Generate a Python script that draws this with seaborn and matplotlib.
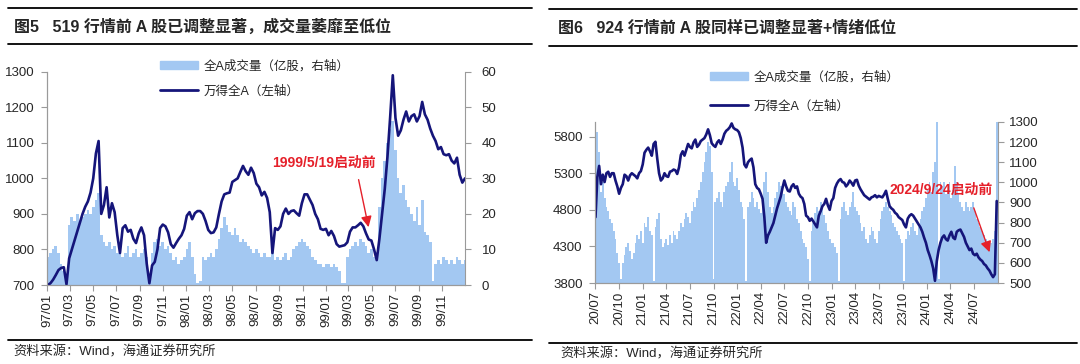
import pandas as pd
import seaborn as sns
import matplotlib.pyplot as plt
from matplotlib.lines import Line2D
from matplotlib.patches import Patch

# 图5：万得全A（左轴）与全A成交量（亿股，右轴），1997-1999 周度读数
wind_a_9799 = [700, 705, 715, 728, 742, 748, 750, 702, 775, 800,
               825, 850, 875, 900, 920, 935, 960, 1000, 1070, 1105,
               900, 925, 975, 890, 930, 905, 840, 790, 860, 868,
               850, 855, 830, 818, 845, 862, 840, 760, 705, 755,
               765, 800, 860, 870, 865, 848, 815, 805, 818, 830,
               840, 858, 895, 905, 885, 902, 908, 908, 900, 880,
               855, 846, 848, 862, 900, 935, 955, 958, 960, 990,
               995, 1000, 1018, 1035, 1020, 1010, 1030, 1015, 985, 975,
               952, 962, 945, 905, 790, 860, 855, 865, 900, 915,
               900, 908, 910, 902, 895, 930, 955, 955, 940, 925,
               900, 885, 858, 855, 858, 840, 852, 838, 815, 808,
               810, 812, 820, 850, 862, 862, 868, 875, 865, 845,
               828, 825, 800, 770, 830, 900, 970, 1060, 1170, 1290,
               1170, 1120, 1135, 1165, 1188, 1160, 1175, 1180, 1160, 1175,
               1215, 1180, 1165, 1140, 1120, 1105, 1082, 1088, 1068, 1065,
               1068, 1050, 1042, 1058, 1010, 988, 1000]
vol_9799 = [8, 9, 10, 11, 9, 6, 4, 1,
            17, 19, 18, 20, 18, 19, 20,
            21, 20, 22, 24, 26,
            14, 12, 11, 12, 10, 11,
            9, 10, 8, 9, 11, 8, 9, 10, 8, 9, 10, 8,
            3,
            9, 12, 13, 11, 12, 10, 11, 9,
            7, 8, 6, 7, 8,
            10, 12, 8,
            3, 0.5, 1,
            8, 7, 8, 9, 8, 10,
            13, 16, 19, 17, 15, 14, 16,
            14, 12, 13, 12,
            11, 10, 9, 10, 9, 8, 9, 8,
            8, 10, 7, 8, 7, 8, 9, 7, 8,
            10, 11, 12, 13, 12, 11, 10,
            8, 7, 6, 6, 5, 6, 6, 5, 6,
            5, 4, 0.5, 0.5,
            8, 10, 11, 12, 11, 13, 12, 11,
            9, 10, 8, 9,
            22, 30, 35, 40, 44, 46,
            38, 30, 26, 28, 24, 22,
            20, 18, 22, 17, 24, 15, 14, 12,
            1,
            6, 7, 6, 8, 7, 6, 7, 6, 8, 7, 6, 7]
start_9799 = "1997-01-03"

# 图6：万得全A（左轴）与全A成交量（亿股，右轴），2020-2024 周度读数
wind_a_2024 = [4700, 5250, 5400, 5150, 5280, 5180, 5300, 5320, 5250, 5300,
               5300, 5200, 5120, 5020, 5100, 5150, 5280, 5260, 5200, 5270,
               5300, 5280, 5260, 5230, 5300, 5330, 5420, 5580, 5620, 5650,
               5600, 5540, 5700, 5730, 5500, 5300, 5200, 5230, 5300, 5260,
               5250, 5320, 5330, 5350, 5340, 5290, 5380, 5550, 5600, 5540,
               5620, 5700, 5660, 5640, 5720, 5760, 5660, 5690, 5740, 5760,
               5780, 5830, 5900, 5820, 5710, 5680, 5660, 5720, 5750, 5700,
               5760, 5840, 5880, 5900, 5930, 5980, 5920, 5900, 5890, 5860,
               5780, 5650, 5420, 5380, 5450, 5480, 5500, 5380, 5150, 5100,
               5080, 5020, 4950, 4700, 4350, 4450, 4500, 4560, 4620, 4720,
               4820, 4900, 4980, 5100, 5200, 5120, 5060, 5050, 5120, 5150,
               5100, 5120, 5020, 4980, 4960, 4880, 4720, 4700, 4650, 4680,
               4640, 4600, 4560, 4720, 4780, 4850, 4880, 4950, 4860, 4800,
               4920, 4960, 5100, 5160, 5200, 5220, 5180, 5170, 5120, 5150,
               5200, 5170, 5130, 5200, 5210, 5130, 5080, 5040, 5000, 4980,
               4960, 4940, 4970, 4980, 5000, 4970, 4990, 4980, 4970, 5010,
               5060, 4950, 4850, 4820, 4800, 4760, 4740, 4700, 4680, 4660,
               4600, 4560, 4680, 4720, 4740, 4720, 4680, 4640, 4600, 4560,
               4500, 4420, 4350, 4250, 4180, 4100, 4000, 3830, 4100, 4250,
               4350, 4420, 4450, 4400, 4380, 4450, 4500, 4420, 4400, 4500,
               4520, 4530, 4480, 4430, 4350, 4300, 4250, 4270, 4200, 4180,
               4200, 4150, 4120, 4100, 4060, 4040, 4000, 3970, 3920, 3880,
               3920, 4920]
vol_2024 = [1300, 1250, 1150, 950, 1000, 920, 880, 860, 820, 800,
            760, 720, 650, 600, 520, 600, 640, 680, 700, 660,
            620, 650, 700, 740, 720, 760, 700, 800, 780, 830,
            760, 740, 510, 780, 820, 850, 720, 680, 700, 720,
            690, 740, 700, 760, 740, 720, 760, 800, 780, 820,
            850, 830, 800, 860, 900, 880, 920, 960, 1000, 1050,
            1100, 1150, 1200, 1180, 1050, 520, 900, 920, 950, 900,
            880, 950, 980, 1000, 1050, 1100, 1000, 980, 1020, 960,
            900, 880, 820, 510, 880, 900, 950, 920, 880, 900,
            870, 850, 900, 1000, 1050, 950, 880, 850, 880, 920,
            950, 1000, 980, 960, 940, 900, 880, 860, 840, 900,
            880, 820, 800, 760, 720, 700, 680, 620, 510, 760,
            800, 850, 880, 860, 900, 880, 840, 800, 760, 720,
            700, 700, 680, 650, 510, 820, 880, 900, 860, 840,
            880, 900, 950, 880, 860, 840, 800, 760, 780, 720,
            700, 740, 780, 760, 720, 700, 760, 820, 860, 880,
            900, 880, 860, 840, 800, 780, 760, 740, 720, 700,
            510, 720, 760, 740, 780, 800, 760, 740, 780, 820,
            860, 880, 920, 960, 1000, 950, 1050, 1100, 1300, 520,
            1000, 980, 1000, 940, 960, 1000, 920, 960, 1080, 1000,
            940, 900, 880, 860, 900, 880, 860, 880, 900, 860,
            820, 800, 780, 760, 740, 720, 700, 680, 700, 720,
            760, 1300]
start_2024 = "2020-07-03"

BAR = "#A3C8F2"
NAVY = "#15157A"
RED = "#E5202A"
GRAY = "#9A9A9A"

sns.set_style("white")
plt.rcParams["font.family"] = ["Liberation Sans", "Noto Sans CJK SC"]
plt.rcParams["axes.unicode_minus"] = False

W, H = 1080, 364
fig = plt.figure(figsize=(W / 100, H / 100), dpi=100)


def box(x0, y0, x1, y1):
    # pixel box -> figure fraction rect
    return [x0 / W, 1 - y1 / H, (x1 - x0) / W, (y1 - y0) / H]


def panel(rect, line_vals, vol_vals, start, xlim, xticks, lticks, rticks, rpad):
    ax = fig.add_axes(rect)
    axb = ax.twinx()
    d_line = pd.date_range(start, periods=len(line_vals), freq="7D")
    d_vol = pd.date_range(start, periods=len(vol_vals), freq="7D")
    axb.bar(d_vol, vol_vals, width=7, color=BAR, linewidth=0)
    sns.lineplot(x=d_line, y=line_vals, ax=ax, color=NAVY, lw=1.9)
    ax.set_zorder(axb.get_zorder() + 1)
    ax.patch.set_visible(False)

    ax.set_xlim(pd.Timestamp(xlim[0]), pd.Timestamp(xlim[1]))
    ax.set_ylim(lticks[0], lticks[-1] if lticks[-1] != 5800 else 6000)
    axb.set_ylim(rticks[0], rticks[-1])
    ax.set_yticks(lticks)
    axb.set_yticks(rticks)
    ax.set_xticks(xticks)
    ax.set_xticklabels([d.strftime("%y/%m") for d in xticks], rotation=90)
    ax.set_xlabel("")
    ax.set_ylabel("")

    for a in (ax, axb):
        for s in a.spines.values():
            s.set_color(GRAY)
            s.set_linewidth(0.8)
        a.spines["top"].set_visible(False)
    ax.spines["right"].set_visible(False)
    ax.tick_params(axis="y", direction="out", length=4, color=GRAY,
                   labelsize=9.5, pad=5, left=True)
    ax.tick_params(axis="x", direction="out", length=4, color=GRAY,
                   labelsize=9.5, pad=2, bottom=True)
    axb.tick_params(axis="y", direction="out", length=4, color=GRAY,
                    labelsize=9.5, pad=rpad, right=True)
    return ax


def frame(x0, x1, y_top, y_mid, y_bot, title, tx, ty, sx, sy):
    for y in (y_top, y_mid, y_bot):
        fig.add_artist(Line2D([x0 / W, x1 / W], [1 - y / H] * 2,
                              color="black", lw=1.3, transform=fig.transFigure))
    fig.text(tx / W, 1 - ty / H, title, fontsize=11.5, fontweight="bold",
             va="center", ha="left")
    fig.text(sx / W, 1 - sy / H, "资料来源：Wind，海通证券研究所",
             fontsize=9.5, va="center", ha="left")


def legend(x, y, gap):
    handles = [Patch(color=BAR), Line2D([], [], color=NAVY, lw=2)]
    labels = ["全A成交量（亿股，右轴）", "万得全A（左轴）"]
    fig.legend(handles, labels, loc="upper left", bbox_to_anchor=(x / W, 1 - y / H),
               frameon=False, fontsize=9, handlelength=3.0, handleheight=0.7,
               labelspacing=gap, borderpad=0, borderaxespad=0, handletextpad=0.5)


# ---- 图5 ----
ticks_9799 = pd.date_range("1997-01-01", "1999-11-01", freq="2MS")
ax1 = panel(box(47, 71.7, 465, 285), wind_a_9799, vol_9799, start_9799,
            ("1997-01-01", "1999-12-31"), ticks_9799,
            [700, 800, 900, 1000, 1100, 1200, 1300],
            [0, 10, 20, 30, 40, 50, 60], 8)
frame(8, 532, 8, 44, 340, "图5   519 行情前 A 股已调整显著，成交量萎靡至低位",
      14, 27, 13, 352)
legend(160, 60, 1.05)
ax1.text(pd.Timestamp("1998-12-26"), 1043, "1999/5/19启动前", color=RED,
         fontsize=10, fontweight="bold", ha="center", va="center")
ax1.annotate("", xy=(pd.Timestamp("1999-04-24"), 855),
             xytext=(pd.Timestamp("1999-03-26"), 1004),
             arrowprops=dict(arrowstyle="-|>", color=RED, lw=1, mutation_scale=16))

# ---- 图6 ----
ticks_2024 = pd.date_range("2020-07-01", "2024-07-01", freq="3MS")
ax2 = panel(box(595, 122, 998, 283), wind_a_2024, vol_2024, start_2024,
            ("2020-07-01", "2024-10-02"), ticks_2024,
            [3800, 4300, 4800, 5300, 5800],
            [500, 600, 700, 800, 900, 1000, 1100, 1200, 1300], 4)
frame(549, 1077, 9, 46, 343, "图6   924 行情前 A 股同样已调整显著+情绪低位",
      558, 28, 560, 354)
legend(710, 71, 1.35)
ax2.text(pd.Timestamp("2024-02-26"), 5067, "2024/9/24启动前", color=RED,
         fontsize=10, fontweight="bold", ha="center", va="center")
ax2.annotate("", xy=(pd.Timestamp("2024-09-03"), 4185),
             xytext=(pd.Timestamp("2024-06-27"), 4863),
             arrowprops=dict(arrowstyle="-|>", color=RED, lw=1, mutation_scale=16))

fig.savefig("out.png", dpi=100)
